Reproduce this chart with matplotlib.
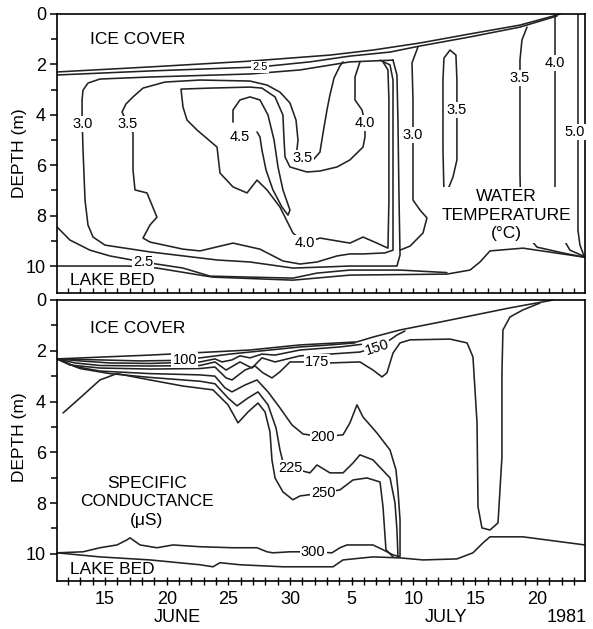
import numpy as np
import matplotlib.pyplot as plt

plt.rcParams['font.family'] = ['Liberation Sans', 'DejaVu Sans']

# day numbers: 1 = 1 June, 31 = 1 July ; depth in m
# ---------------- water temperature panel ----------------
ice_t_day = [11.11, 18.65, 26.75, 33.23, 36.72, 40.53, 44.58, 48.63, 51.63, 51.9]
ice_t_dep = [2.30, 2.10, 1.87, 1.63, 1.43, 1.15, 0.79, 0.44, 0.04, 0.0]

t25_top_day = [11.11, 18.65, 27.56, 31.61, 34.85, 38.1, 40.53, 44.58, 48.63, 51.63]
t25_top_dep = [2.42, 2.26, 2.10, 1.90, 1.67, 1.51, 1.27, 0.91, 0.52, 0.08]

t25_bot_day = [11.11, 12.16, 13.78, 15.4, 18.08, 21.32, 23.51, 26.75, 30.23, 32.18, 34.85, 38.91, 42.71]
t25_bot_dep = [8.45, 8.97, 9.37, 9.6, 9.84, 10.08, 10.4, 10.44, 10.48, 10.28, 10.16, 10.16, 10.26]

bed_t_day = [11.11, 16.86, 19.21, 22.7, 23.75, 30.23, 34.85, 42.71, 44.58, 45.39, 46.2, 48.87, 53.74, 53.9]
bed_t_dep = [10.0, 10.0, 10.08, 10.36, 10.44, 10.56, 10.36, 10.32, 10.16, 9.84, 9.4, 9.29, 9.64, 9.66]

t30_day = [38.34, 34.85, 30.8, 26.75, 18.65, 14.59, 13.62, 13.22, 13.14, 13.14, 13.22, 13.38, 13.62,
           14.03, 15.0, 18.65, 24.08, 26.75, 30.23, 32.67, 34.85, 38.66, 38.91, 38.83, 38.74, 38.66, 38.34]
t30_dep = [1.83, 1.90, 2.22, 2.38, 2.5, 2.58, 2.74, 3.02, 3.41, 4.09, 5.4, 7.38, 8.37,
           8.85, 9.17, 9.44, 9.76, 9.84, 10.08, 10.04, 10.0, 10.0, 9.56, 7.38, 4.21, 2.42, 1.83]

t30_east_day = [40.36, 39.88, 39.96, 39.96, 40.53, 41.09, 40.77, 39.72, 38.91]
t30_east_dep = [1.31, 1.94, 3.41, 7.38, 7.78, 8.09, 8.69, 9.21, 9.37]

t35_day = [34.29, 34.04, 33.56, 33.23, 32.99, 32.67, 32.42, 31.86, 31.05, 30.48, 30.64, 30.48, 29.99,
           29.18, 28.13, 26.75, 22.7, 19.86, 18.08, 17.27, 16.7, 16.38, 16.86, 17.27, 17.27, 17.43,
           18.4, 19.21, 18.65, 18.08, 18.65, 21.32, 22.7, 25.37, 27.56, 29.42, 30.8, 32.18, 33.8,
           34.85, 35.91, 37.69, 38.34, 38.34, 38.34, 38.1, 37.29]
t35_dep = [1.90, 2.06, 2.54, 3.21, 3.81, 4.72, 5.48, 5.79, 5.87, 5.71, 5.0, 4.21, 3.53,
           3.1, 2.82, 2.66, 2.62, 2.7, 2.94, 3.29, 3.57, 3.89, 4.37, 4.72, 6.19, 6.98,
           7.1, 8.06, 8.37, 8.89, 9.05, 9.33, 9.4, 9.09, 9.33, 9.8, 9.92, 9.84, 9.6,
           9.52, 9.52, 9.48, 9.37, 5.4, 2.62, 2.02, 1.83]

t35_loop_day = [42.47, 42.39, 42.39, 42.47, 42.96, 43.44, 43.52, 43.52, 43.2, 42.71, 42.47]
t35_loop_dep = [7.06, 5.4, 2.62, 1.75, 1.43, 1.63, 2.62, 5.79, 6.47, 7.06, 7.06]

t35_east_day = [49.2, 48.79, 48.63, 48.63, 48.71, 49.2, 50.01, 52.1, 53.74, 53.9]
t35_east_dep = [0.52, 1.03, 1.83, 6.31, 8.17, 8.77, 9.25, 9.48, 9.64, 9.66]

t40_day = [35.66, 35.26, 35.26, 35.83, 36.07, 36.07, 35.91, 34.85, 33.8, 32.42, 31.37, 29.99, 29.59,
           29.51, 29.42, 28.78, 27.72, 26.75, 23.51, 21.16, 21.32, 21.65, 22.45, 24.08, 24.32, 25.37,
           26.51, 27.32, 28.13, 29.18, 30.23, 31.21, 32.42, 34.85, 35.91, 37.04, 37.93, 38.01, 38.01,
           37.93, 37.53]
t40_dep = [1.90, 2.5, 3.41, 3.81, 4.33, 4.88, 5.28, 5.79, 6.07, 6.23, 6.27, 6.07, 5.67,
           5.0, 4.01, 3.29, 2.94, 2.9, 2.94, 2.98, 3.69, 4.21, 4.6, 5.28, 6.31, 6.86,
           7.1, 6.59, 6.98, 7.66, 8.69, 9.09, 8.89, 9.09, 8.85, 9.09, 9.29, 7.38, 3.41,
           2.22, 1.90]

t40_east_day = [51.47, 51.47, 51.47, 51.63, 51.87, 52.68, 53.74]
t40_east_dep = [0.04, 1.83, 7.18, 8.37, 8.69, 9.37, 9.6]

t45_day = [25.37, 25.37, 25.94, 26.75, 27.56, 28.21, 28.7, 29.02, 29.42, 29.99, 29.83, 29.34, 28.61,
           28.05, 27.72, 27.56, 27.32]
t45_dep = [4.29, 3.81, 3.41, 3.29, 3.41, 4.01, 5.0, 6.07, 6.98, 7.78, 7.98, 7.66, 6.98,
           6.19, 5.4, 4.88, 4.68]

t50_day = [53.33, 53.33, 53.33, 53.49, 53.82]
t50_dep = [0.0, 4.6, 8.57, 9.17, 9.6]

# ---------------- specific conductance panel ----------------
ice_c_day = [11.11, 18.65, 26.75, 30.8, 35.42, 36.72, 38.91, 42.15, 47.82, 51.31]
ice_c_dep = [2.32, 2.17, 1.97, 1.77, 1.65, 1.46, 1.18, 0.87, 0.31, 0.0]

c100_day = [11.11, 14.59, 17.84, 20.67, 22.7, 25.13, 27.56, 30.8, 33.23, 35.26]
c100_dep = [2.32, 2.36, 2.40, 2.38, 2.28, 2.13, 2.01, 1.85, 1.77, 1.69]

c125_day = [11.11, 12.97, 15.4, 18.65, 22.7, 23.91, 24.48, 25.29, 25.94, 26.75, 27.72, 28.78, 30.8, 34.04, 36.07]
c125_dep = [2.32, 2.40, 2.48, 2.50, 2.44, 2.32, 2.44, 2.36, 2.2, 2.28, 2.13, 2.17, 1.97, 1.85, 1.73]

c150_day = [11.11, 12.57, 14.59, 18.65, 22.7, 23.91, 24.81, 25.94, 26.91, 27.72, 28.78, 30.8, 33.23,
            35.66, 37.04, 38.1, 38.66, 39.31]
c150_dep = [2.32, 2.48, 2.58, 2.60, 2.58, 2.44, 2.76, 2.44, 2.68, 2.28, 2.44, 2.2, 2.13,
            2.05, 1.85, 1.57, 1.38, 1.22]

c175_day = [11.11, 12.16, 14.59, 18.65, 22.7, 23.91, 24.81, 25.29, 26.34, 27.16, 27.8, 28.53, 29.18,
            29.99, 32.18, 33.23, 35.66, 36.72, 37.45, 37.85, 38.34, 38.91, 39.72, 42.96, 44.34, 44.82,
            45.15, 45.23, 45.55, 46.2, 46.85, 47.17, 47.17, 47.25, 47.82, 48.87, 50.25]
c175_dep = [2.32, 2.56, 2.68, 2.72, 2.70, 2.64, 3.07, 3.15, 2.76, 2.6, 2.87, 3.07, 2.83,
            2.44, 2.44, 2.48, 2.44, 2.76, 3.03, 2.87, 2.09, 1.69, 1.57, 1.54, 1.69, 2.24,
            4.84, 8.15, 8.98, 9.06, 8.78, 6.18, 2.87, 1.18, 0.67, 0.39, 0.12]

c200_day = [11.11, 12.57, 14.59, 18.65, 22.7, 23.91, 24.72, 25.29, 26.34, 27.32, 28.21, 29.18, 30.15,
            31.05, 32.67, 34.29, 34.85, 35.42, 35.91, 37.04, 38.1, 38.58, 38.74, 38.91, 38.91]
c200_dep = [2.32, 2.62, 2.80, 2.90, 2.95, 3.0, 3.46, 3.62, 3.35, 3.15, 3.62, 4.25, 4.92,
            5.28, 5.39, 5.31, 4.84, 4.13, 4.61, 5.24, 5.91, 6.69, 7.48, 8.66, 10.08]

c225_day = [11.11, 12.97, 15.4, 18.65, 22.7, 23.91, 24.97, 25.7, 26.59, 27.4, 28.21, 28.86, 29.18,
            29.42, 29.99, 31.61, 32.18, 33.23, 34.29, 35.1, 35.66, 36.72, 38.1, 38.5, 38.66, 38.74]
c225_dep = [2.32, 2.70, 2.90, 3.05, 3.20, 3.30, 3.86, 4.17, 3.86, 3.62, 4.13, 5.04, 5.91,
            6.38, 6.61, 6.81, 6.5, 6.81, 6.81, 6.42, 6.1, 6.3, 7.01, 7.99, 9.06, 10.08]

c250_day = [11.6, 12.97, 14.59, 15.97, 18.65, 21.32, 23.75, 24.97, 25.78, 26.59, 27.4, 27.97, 28.37,
            28.53, 28.78, 29.42, 30.23, 30.8, 32.67, 34.04, 35.1, 36.23, 37.29, 37.53, 37.77, 38.34]
c250_dep = [4.45, 3.86, 3.15, 2.90, 3.15, 3.39, 3.54, 4.13, 4.84, 4.41, 4.06, 4.41, 5.2,
            6.3, 7.01, 7.56, 7.87, 7.72, 7.6, 7.48, 7.09, 7.01, 7.17, 8.15, 9.84, 10.12]

c300_day = [11.11, 13.22, 14.59, 15.97, 16.78, 17.03, 17.84, 19.21, 20.51, 22.7, 25.37, 27.32, 28.13,
            28.61, 29.99, 31.86, 33.39, 34.04, 34.61, 36.72, 37.53, 38.34, 38.91]
c300_dep = [9.96, 9.92, 9.76, 9.65, 9.45, 9.37, 9.65, 9.76, 9.65, 9.72, 9.76, 9.76, 9.92,
            9.96, 9.92, 9.92, 9.96, 9.76, 9.65, 9.65, 9.84, 10.04, 10.12]

bed_c_day = [11.11, 14.59, 18.65, 22.7, 23.75, 24.32, 25.94, 29.42, 33.48, 34.29, 36.72, 38.91, 40.77,
             43.52, 44.82, 45.63, 46.2, 48.87, 53.9]
bed_c_dep = [9.96, 10.12, 10.24, 10.43, 10.51, 10.35, 10.43, 10.51, 10.51, 10.24, 10.12, 10.16, 10.24,
             10.2, 9.96, 9.57, 9.33, 9.33, 9.65]

tick_days = [15, 20, 25, 30, 35, 40, 45, 50]
tick_labels = ['15', '20', '25', '30', '5', '10', '15', '20']

temp_lines = [(ice_t_day, ice_t_dep), (t25_top_day, t25_top_dep), (t25_bot_day, t25_bot_dep),
              (bed_t_day, bed_t_dep), (t30_day, t30_dep), (t30_east_day, t30_east_dep),
              (t35_day, t35_dep), (t35_loop_day, t35_loop_dep), (t35_east_day, t35_east_dep),
              (t40_day, t40_dep), (t40_east_day, t40_east_dep), (t45_day, t45_dep), (t50_day, t50_dep)]
cond_lines = [(ice_c_day, ice_c_dep), (c100_day, c100_dep), (c125_day, c125_dep), (c150_day, c150_dep),
              (c175_day, c175_dep), (c200_day, c200_dep), (c225_day, c225_dep), (c250_day, c250_dep),
              (c300_day, c300_dep), (bed_c_day, bed_c_dep)]

# contour labels (day, depth, text)
temp_labels = [(27.56, 2.10, '2.5', 8), (13.22, 4.37, '3.0', 10.5), (16.86, 4.37, '3.5', 10.5),
               (25.94, 4.88, '4.5', 10.5), (31.05, 5.71, '3.5', 10.5), (36.07, 4.33, '4.0', 10.5),
               (31.21, 9.09, '4.0', 10.5), (18.08, 9.84, '2.5', 10.5), (39.96, 4.8, '3.0', 10.5),
               (43.52, 3.81, '3.5', 10.5), (48.63, 2.54, '3.5', 10.5), (51.47, 1.94, '4.0', 10.5),
               (53.1, 4.68, '5.0', 10.5)]
cond_labels = [(21.48, 2.36, '100', 0), (37.04, 1.85, '150', 18), (32.18, 2.44, '175', 0),
               (32.67, 5.39, '200', 0), (29.99, 6.61, '225', 0), (32.67, 7.6, '250', 0),
               (31.86, 9.92, '300', 0)]

fig = plt.figure(figsize=(5.93, 6.29), dpi=100)
ax_t = fig.add_axes([57 / 593, 1 - 293 / 629, 528 / 593, 279 / 629])
ax_c = fig.add_axes([57 / 593, 1 - 581 / 629, 528 / 593, 281 / 629])

box = dict(boxstyle='square,pad=0.08', fc='white', ec='none')

for ax, lines in ((ax_t, temp_lines), (ax_c, cond_lines)):
    for d, z in lines:
        ax.plot(d, z, color='#222222', lw=1.15, zorder=2, solid_joinstyle='round', solid_capstyle='round')
    ax.set_xlim(11.11, 53.9)
    ax.set_ylim(11.07, 0)
    ax.set_yticks([0, 2, 4, 6, 8, 10])
    ax.set_yticks([1, 3, 5, 7, 9], minor=True)
    ax.tick_params(axis='y', which='major', direction='out', length=5, width=1.1, labelsize=13, pad=3)
    ax.tick_params(axis='y', which='minor', direction='out', length=4, width=1.1)
    ax.set_xticks(tick_days)
    ax.set_xticks(np.arange(12, 54), minor=True)
    for s in ax.spines.values():
        s.set_linewidth(1.2)

ax_t.tick_params(axis='x', which='both', direction='in', length=3.5, width=1.0, labelbottom=False)
ax_c.tick_params(axis='x', which='both', direction='inout', length=6, width=1.0, labelsize=13, pad=4)
ax_c.set_xticklabels(tick_labels)

for d, z, s, fs in temp_labels:
    ax_t.text(d, z, s, fontsize=fs, ha='center', va='center', bbox=box, zorder=5)
for d, z, s, rot in cond_labels:
    ax_c.text(d, z, s, fontsize=10.5, ha='center', va='center', rotation=rot, bbox=box, zorder=5)

big = 12.5
ax_t.text(13.78, 1.03, 'ICE COVER', fontsize=big, ha='left', va='center')
ax_t.text(12.16, 10.56, 'LAKE BED', fontsize=big, ha='left', va='center')
ax_t.text(47.5, 7.98, 'WATER\nTEMPERATURE\n(°C)', fontsize=big, ha='center', va='center',
          linespacing=1.3, bbox=dict(boxstyle='square,pad=0.1', fc='white', ec='none'), zorder=5)

ax_c.text(13.78, 1.14, 'ICE COVER', fontsize=big, ha='left', va='center')
ax_c.text(12.16, 10.63, 'LAKE BED', fontsize=big, ha='left', va='center')
ax_c.text(18.4, 7.95, 'SPECIFIC\nCONDUCTANCE\n(\u03bcS)', fontsize=big, ha='center', va='center',
          linespacing=1.3, zorder=5)

ax_c.text(20.83, 12.52, 'JUNE', fontsize=13, ha='center', va='center', clip_on=False)
ax_c.text(42.6, 12.52, 'JULY', fontsize=13, ha='center', va='center', clip_on=False)
ax_c.text(52.4, 12.52, '1981', fontsize=13, ha='center', va='center', clip_on=False)

fig.text(20 / 593, 1 - 153 / 629, 'DEPTH (m)', rotation=90, fontsize=12.5, ha='center', va='center')
fig.text(20 / 593, 1 - 437 / 629, 'DEPTH (m)', rotation=90, fontsize=12.5, ha='center', va='center')

fig.savefig('out.png', dpi=100, facecolor='white')
